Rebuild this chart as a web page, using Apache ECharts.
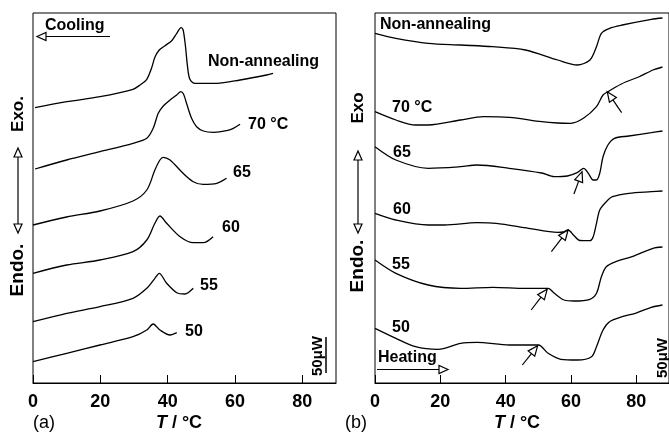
<!DOCTYPE html>
<html><head><meta charset="utf-8">
<script src="https://cdn.jsdelivr.net/npm/echarts@6/dist/echarts.min.js"></script>
<style>html,body{margin:0;padding:0;background:#fff}#c{width:669px;height:434px}</style>
</head><body><div id="c"></div>
<script>
// ---- (a) cooling curves: [T (°C), signal (a.u.)] ----
var coolNon = [[0.6,275.3],[10,281.3],[19.9,286.3],[29.7,293.7],[31.8,298],[33.8,303.7],[35.2,314.7],[36.2,325.7],[37.5,333],[39.2,337.3],[41.2,342.3],[42.7,349.7],[44.0,355.3],[44.6,353],[45.3,336.3],[45.9,316.3],[46.6,303.7],[48.1,299.7],[54.6,299.7],[61.5,303],[69.4,308],[71.3,309.7]];
var cool70 = [[0.6,214],[10,223],[19.9,231.3],[29.7,239.7],[33.8,244.7],[35.7,254.7],[37.2,269.7],[38.7,277],[40.7,283],[42.7,288],[43.9,291.3],[44.7,289],[45.6,279.7],[47.1,264.7],[48.6,256.3],[50.6,252],[53.6,250.7],[57.5,252.3],[59.5,254.7],[61.5,258.7]];
var cool65 = [[0,158],[10,166],[19.9,172],[29.7,182],[33.8,193],[36.2,213],[37.7,223],[38.7,225.7],[40.7,223],[44.5,210],[47.6,201.3],[50.5,198.7],[54.6,199.7],[57.5,204.7]];
var cool60 = [[0,109.7],[10,118],[19.9,123],[29.7,131.3],[33.8,143],[36.2,159.7],[37.7,167],[39.7,159.7],[43.7,146.3],[47.6,140.3],[50.6,140.3],[53.5,146.3]];
var cool55 = [[0,61.3],[10,69.7],[19.9,76.3],[29.7,84.7],[33.8,94.7],[36.2,104.7],[37.5,109.7],[39.7,99.7],[42.7,90.3],[45.1,89],[47.6,94.7]];
var cool50 = [[0,21.3],[10,29.7],[19.9,38],[29.7,46.3],[33.8,53],[35.7,59],[37.7,53],[40.7,48],[42.7,50.3]];

// ---- (b) heating curves ----
var heatNon = [[0,349.7],[6.4,344.7],[16.3,339.7],[26.2,338],[36.1,336.3],[46.0,333],[55.9,323],[61.9,318],[65.8,323],[67.8,336.3],[69.3,349.7],[71.8,354.7],[75.7,358],[84.6,363.7],[88,365]];
var heat70 = [[0,271.3],[6.4,263],[12.4,258],[16.3,258],[26.2,263],[33.2,266.3],[41.1,265.7],[51.0,261.3],[55.9,260],[59.9,259.7],[63.8,264.7],[67.8,276.3],[69.8,288],[71.3,291.3],[73.7,296],[76.7,301],[80.7,306],[85.1,313],[88,316]];
var heat65 = [[0,236.3],[6.4,223],[16.3,214.7],[26.2,216.3],[31.2,218],[41.1,214.7],[51.0,210],[54.9,206.3],[58.9,207],[61.9,210.3],[63.9,214.7],[65.3,209.7],[66.8,203],[67.8,203],[68.8,209.7],[69.8,226.3],[71.3,238],[73.3,244.7],[77.7,247],[84.6,250.3],[88,252]];
var heat60 = [[0,169.7],[6.4,163],[16.3,158],[21.3,158],[31.2,160.3],[37.1,159.7],[47.0,154.7],[55.9,150.7],[57.5,151],[59.1,153],[60.9,147.5],[62.7,142.5],[65.8,142.3],[66.8,146.3],[67.8,159.7],[68.8,173],[70.8,181.3],[72.7,186.3],[77.7,189.7],[84.6,191.3],[88,192]];
var heat55 = [[0,123],[6.4,109.7],[16.3,98],[26.2,94.7],[36.1,95.7],[46.0,94.7],[53.0,94.7],[54.9,89.7],[57.9,83],[60.9,82],[65.8,83.7],[67.8,89.7],[69.3,106.3],[70.8,116.3],[73.7,121.3],[78.7,126.3],[85.1,134.7],[88,136]];
var heat50 = [[0,54.7],[6.4,44.7],[12.4,36.3],[19.3,33.7],[26.2,39.7],[31.2,40.7],[41.1,38],[50.0,38],[53.0,29.7],[56.9,23.7],[61.9,23],[66.3,26.3],[67.8,36.3],[69.8,53],[71.8,61.3],[75.7,66.3],[79.7,69.7],[84.6,75.7],[88,78]];

// arrows in (b): [tail T, tail signal, head T, head signal]
var heatArrows = [[75.5,270.3,71.1,291.3],[60.9,189,63.4,211.3],[54.0,131.3,59.1,153],[47.8,73,52.7,93.7],[45.1,18,49.8,37.3]];

var xTicks = [0,20,40,60,80];
var curveLabelsA = ['Non-annealing','70 °C','65','60','55','50'];
var curveLabelsB = ['Non-annealing','70 °C','65','60','55','50'];

var FONT = '"Liberation Sans", Arial, Helvetica, sans-serif';
var chart = echarts.init(document.getElementById('c'), null, {renderer:'canvas'});

function xAx(gi){
  return {gridIndex:gi, type:'value', min:0, max:90, interval:20,
    axisLine:{show:true, lineStyle:{color:'#000', width:1}},
    axisTick:{show:true, inside:true, length:8, lineStyle:{color:'#000', width:1}},
    axisLabel:{show:true, color:'#000', fontFamily:FONT, fontWeight:'bold', fontSize:18, margin:10, showMaxLabel:false,
      formatter:function(v){return xTicks.indexOf(v)>=0 ? String(v) : '';}},
    splitLine:{show:false}};
}
function yAx(gi){
  return {gridIndex:gi, type:'value', min:0, max:370, show:false, splitLine:{show:false}};
}
function ser(data, xi, extra){
  var s = {type:'line', xAxisIndex:xi, yAxisIndex:xi, data:data, showSymbol:false, symbol:'none',
    smooth:0.3, lineStyle:{color:'#000', width:1.3}, silent:true, animation:false};
  if (extra) for (var k in extra) s[k]=extra[k];
  return s;
}

var arrowSeries = {
  type:'custom', xAxisIndex:1, yAxisIndex:1, data:heatArrows, silent:true, animation:false, clip:false,
  encode:{x:[0,2], y:[1,3]},
  renderItem:function(params, api){
    var t = api.coord([api.value(0), api.value(1)]);
    var h = api.coord([api.value(2), api.value(3)]);
    var dx = h[0]-t[0], dy = h[1]-t[1], L = Math.sqrt(dx*dx+dy*dy), ux = dx/L, uy = dy/L;
    var hl = 10, hw = 4.2;
    var bx = h[0]-ux*hl, by = h[1]-uy*hl;
    return {type:'group', children:[
      {type:'line', shape:{x1:t[0], y1:t[1], x2:bx, y2:by}, style:{stroke:'#000', lineWidth:1.2}},
      {type:'polygon', shape:{points:[[h[0],h[1]],[bx-uy*hw,by+ux*hw],[bx+uy*hw,by-ux*hw]]},
        style:{stroke:'#000', fill:'#fff', lineWidth:1.2}}
    ]};
  }
};

var series = [
  ser(coolNon,0), ser(cool70,0), ser(cool65,0), ser(cool60,0), ser(cool55,0), ser(cool50,0),
  ser(heatNon,1), ser(heat70,1), ser(heat65,1), ser(heat60,1), ser(heat55,1), ser(heat50,1),
  arrowSeries
];

function txt(s, x, y, opt){
  opt = opt || {};
  return {type:'text', x:x, y:y, rotation:opt.rot||0, silent:true,
    style:{text:s, fill:'#000', font:(opt.weight||'bold')+' '+(opt.size||16)+'px '+FONT,
      textAlign:opt.align||'left', textVerticalAlign:'middle'}};
}
function line(pts, w){ return {type:'polyline', silent:true, shape:{points:pts}, style:{stroke:'#000', lineWidth:w||1.2, fill:null}}; }
function tri(pts){ return {type:'polygon', silent:true, shape:{points:pts}, style:{stroke:'#000', lineWidth:1.2, fill:'#fff'}}; }
function dblArrow(x, yTop, yBot){
  return [line([[x,yTop+8],[x,yBot-8]]), tri([[x,yTop],[x-4,yTop+9],[x+4,yTop+9]]), tri([[x,yBot],[x-4,yBot-9],[x+4,yBot-9]])];
}
function axisTitle(x){
  return {type:'text', x:x, y:423, silent:true,
    style:{text:'{i|T} / °C', fill:'#000', textAlign:'center', textVerticalAlign:'middle',
      font:'bold 18px '+FONT,
      rich:{i:{fontStyle:'italic', fontWeight:'bold', fontSize:18, fontFamily:FONT}}}};
}

var graphics = [
  // panel (a)
  txt('Cooling', 45, 26, {size:16}),
  line([[44,36.5],[110,36.5]]), tri([[37,36.5],[46,32.5],[46,40.5]]),
  txt(curveLabelsA[0], 208, 62), txt(curveLabelsA[1], 248, 125), txt(curveLabelsA[2], 233, 173),
  txt(curveLabelsA[3], 222, 228), txt(curveLabelsA[4], 200, 286), txt(curveLabelsA[5], 185, 332),
  txt('Exo.', 18, 114, {rot:Math.PI/2, align:'center', size:17}),
  txt('Endo.', 18, 270, {rot:Math.PI/2, align:'center', size:19}),
  txt('50μW', 318, 356, {rot:Math.PI/2, align:'center', size:15}),
  line([[326,337],[326,373]], 1.5),
  txt('(a)', 33, 423, {weight:'normal', size:18}),
  axisTitle(179),
  // panel (b)
  txt(curveLabelsB[0], 380, 25), txt(curveLabelsB[1], 392, 108), txt(curveLabelsB[2], 393, 153),
  txt(curveLabelsB[3], 393, 210), txt(curveLabelsB[4], 392, 265), txt(curveLabelsB[5], 392, 328),
  txt('Heating', 378, 358, {size:16}),
  line([[377,369.5],[441,369.5]]), tri([[448,369.5],[439,365.5],[439,373.5]]),
  txt('Exo', 358, 108, {rot:Math.PI/2, align:'center', size:17}),
  txt('Endo.', 358, 266, {rot:Math.PI/2, align:'center', size:19}),
  txt('50μW', 663, 358, {rot:Math.PI/2, align:'center', size:15}),
  txt('(b)', 345, 423, {weight:'normal', size:18}),
  axisTitle(517)
].concat(dblArrow(18,148,233)).concat(dblArrow(358,151,233));

chart.setOption({
  animation:false,
  backgroundColor:'#fff',
  textStyle:{fontFamily:FONT},
  grid:[
    {left:33, top:13, width:303, height:370, show:true, borderColor:'#000', borderWidth:1, backgroundColor:'transparent'},
    {left:375, top:13, width:303, height:370, show:true, borderColor:'#000', borderWidth:1, backgroundColor:'transparent'}
  ],
  xAxis:[xAx(0), xAx(1)],
  yAxis:[yAx(0), yAx(1)],
  series:series,
  graphic:graphics
});
</script></body></html>
